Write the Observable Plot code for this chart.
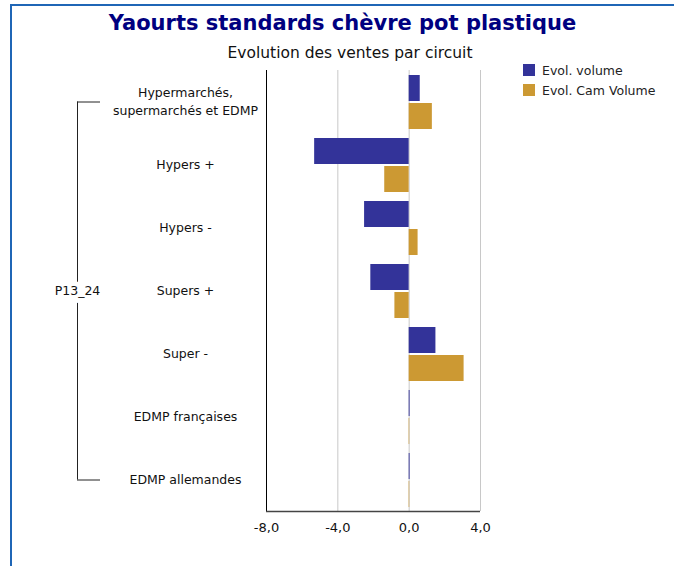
<!DOCTYPE html>
<html>
<head>
<meta charset="utf-8">
<script src="https://cdn.jsdelivr.net/npm/d3@7"></script>
<script src="https://cdn.jsdelivr.net/npm/@observablehq/plot@0.6"></script>
<style>
  html, body { margin: 0; padding: 0; background: #fff; }
  #root { position: relative; width: 674px; height: 566px; overflow: hidden; font-family: "DejaVu Sans", sans-serif; }
  #border { position: absolute; left: 10px; top: 4px; width: 700px; height: 600px; border-left: 2px solid #1f66b6; border-top: 2px solid #1f66b6; }
  #title { position: absolute; top: 11px; left: 0; width: 685px; text-align: center; font-weight: bold; font-size: 21px; color: #000080; }
  #subtitle { position: absolute; top: 44px; left: 0; width: 700px; text-align: center; font-size: 15.5px; color: #111; }
  #legend { position: absolute; left: 523px; top: 60px; font-size: 12.5px; color: #222; }
  #legend .item { display: flex; align-items: center; height: 20px; }
  #legend .sw { width: 12px; height: 12px; margin-right: 7px; }
  #chart { position: absolute; left: 0; top: 62px; }
</style>
</head>
<body>
<div id="root">
  <div id="border"></div>
  <div id="title"></div>
  <div id="subtitle"></div>
  <div id="legend"></div>
  <div id="chart"></div>
</div>
<script>
const titleText = "Yaourts standards chèvre pot plastique";
const subtitleText = "Evolution des ventes par circuit";
const groupLabel = "P13_24";
const categories = [
  "Hypermarchés,\nsupermarchés et EDMP",
  "Hypers +",
  "Hypers -",
  "Supers +",
  "Super -",
  "EDMP françaises",
  "EDMP allemandes"
];
const seriesNames = ["Evol. volume", "Evol. Cam Volume"];
const seriesColors = ["#333399", "#cc9933"];
const evolVolume = [0.62, -5.3, -2.5, -2.15, 1.5, 0.05, 0.05];
const evolCamVolume = [1.3, -1.37, 0.5, -0.8, 3.08, 0.03, 0.03];
const xTicks = [-8, -4, 0, 4];

document.getElementById("title").textContent = titleText;
document.getElementById("subtitle").textContent = subtitleText;
const legend = document.getElementById("legend");
seriesNames.forEach((n, i) => {
  const it = document.createElement("div");
  it.className = "item";
  const sw = document.createElement("div");
  sw.className = "sw";
  sw.style.background = seriesColors[i];
  const tx = document.createElement("span");
  tx.textContent = n;
  it.appendChild(sw); it.appendChild(tx);
  legend.appendChild(it);
});

const volData = categories.map((c, i) => ({cat: c, value: evolVolume[i]}));
const camData = categories.map((c, i) => ({cat: c, value: evolCamVolume[i]}));
const fmt = d => d.toFixed(1).replace(".", ",");
const firstCat = categories[0];
const lastCat = categories[categories.length - 1];
const midCat = categories[3];

const chart = Plot.plot({
  width: 674,
  height: 504,
  marginLeft: 266,
  marginRight: 194,
  marginTop: 8,
  marginBottom: 55,
  style: {background: "transparent", fontFamily: "DejaVu Sans, sans-serif"},
  x: {domain: [-8, 4], ticks: xTicks, label: null},
  y: {domain: categories, padding: 0, axis: null, label: null},
  marks: [
    Plot.ruleX(xTicks.slice(1), {stroke: "#c8c8c8", strokeWidth: 1}),
    Plot.barX(volData, {x: "value", y: "cat", fill: seriesColors[0], insetTop: 5, insetBottom: 32}),
    Plot.barX(camData, {x: "value", y: "cat", fill: seriesColors[1], insetTop: 33, insetBottom: 4}),
    Plot.ruleX([xTicks[0]], {stroke: "#000", strokeWidth: 1}),
    Plot.ruleY([lastCat], {y: d => d, dy: 31.5, stroke: "#444", strokeWidth: 1.5}),
    Plot.axisX(xTicks, {tickSize: 0, tickPadding: 11, tickFormat: fmt, fontSize: 13, fill: "#111", label: null}),
    Plot.text(categories, {y: d => d, frameAnchor: "left", dx: -81, dy: -1.5, textAnchor: "middle", fontSize: 12.5, fill: "#111", lineHeight: 1.4}),
    Plot.ruleX([xTicks[0]], {x: d => d, y1: () => firstCat, y2: () => lastCat, insetTop: 31.5, insetBottom: 31.5, dx: -189, stroke: "#222", strokeWidth: 1}),
    Plot.ruleY([firstCat, lastCat], {y: d => d, x1: () => xTicks[0], x2: () => xTicks[0], insetLeft: -189, insetRight: 166, stroke: "#222", strokeWidth: 1}),
    Plot.text([groupLabel], {y: () => midCat, frameAnchor: "left", dx: -189, textAnchor: "middle", fontSize: 12.5, fill: "#111", stroke: "white", strokeWidth: 10, paintOrder: "stroke"})
  ]
});
document.getElementById("chart").appendChild(chart);
</script>
</body>
</html>
